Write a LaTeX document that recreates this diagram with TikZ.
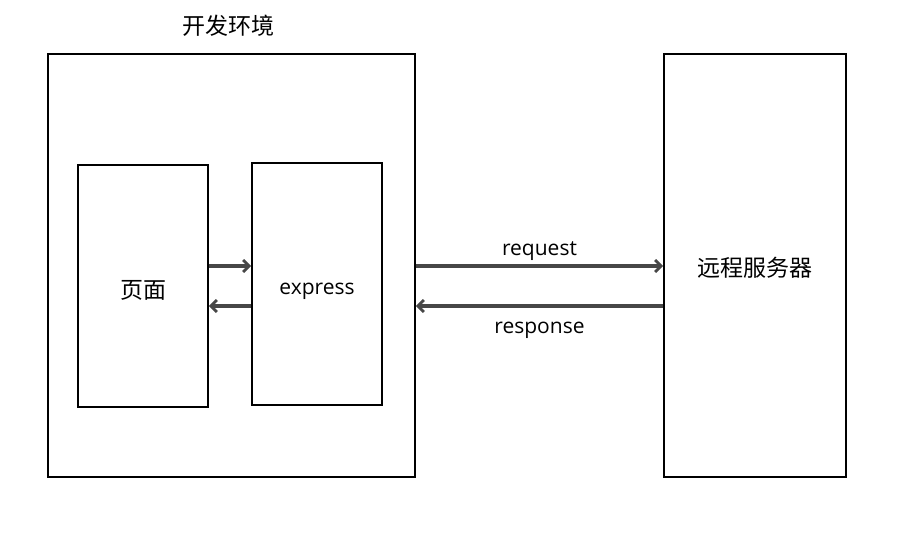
\documentclass[tikz,border=0pt]{standalone}
\usepackage{fontspec}
\setmainfont{Open Sans}
\newfontfamily\cjk{Noto Sans CJK SC}
\usepackage{tikz}
\usetikzlibrary{arrows.meta,positioning,calc}

\begin{document}
\begin{tikzpicture}[x=1pt, y=-1pt,
    box/.style={draw, line width=1.8pt, rectangle, inner sep=0pt},
    link/.style={-{Straight Barb[length=6pt,width=12pt,line width=2.8pt]}, line width=3.2pt, draw=black!72},
    lbl/.style={font=\fontsize{21}{24}\selectfont},
    cjklbl/.style={font=\cjk\fontsize{23}{26}\selectfont}]
    \useasboundingbox (0,0) rectangle (898,536);
    % boxes
    \node[box, minimum width=367pt, minimum height=423pt] (dev) at (231.5,265.5) {};
    \node[cjklbl] (devtitle) at (228,26) {开发环境};
    \node[box, minimum width=130pt, minimum height=242pt] (page) at (143,286) {};
    \node[box, minimum width=130pt, minimum height=242pt] (express) at (317,284) {};
    \node[box, minimum width=182pt, minimum height=423pt] (server) at (755,265.5) {};
    % texts
    \node[cjklbl, yshift=-4pt] (pagetext) at (page.center) {页面};
    \node[lbl, yshift=-7pt] (expresstext) at (express.center) {express};
    \node[cjklbl, yshift=-2.5pt] (servertext) at (server.center) {远程服务器};
    % arrows
    \coordinate (upper) at (0,266);
    \coordinate (lower) at (0,306);
    \draw[link] (page.east |- upper) -- (express.west |- upper);
    \draw[link] (express.west |- lower) -- (page.east |- lower);
    \draw[link] (dev.east |- upper) -- node[above=1pt, lbl] {request} (server.west |- upper);
    \draw[link] (server.west |- lower) -- node[below=11pt, lbl] {response} (dev.east |- lower);
\end{tikzpicture}
\end{document}
